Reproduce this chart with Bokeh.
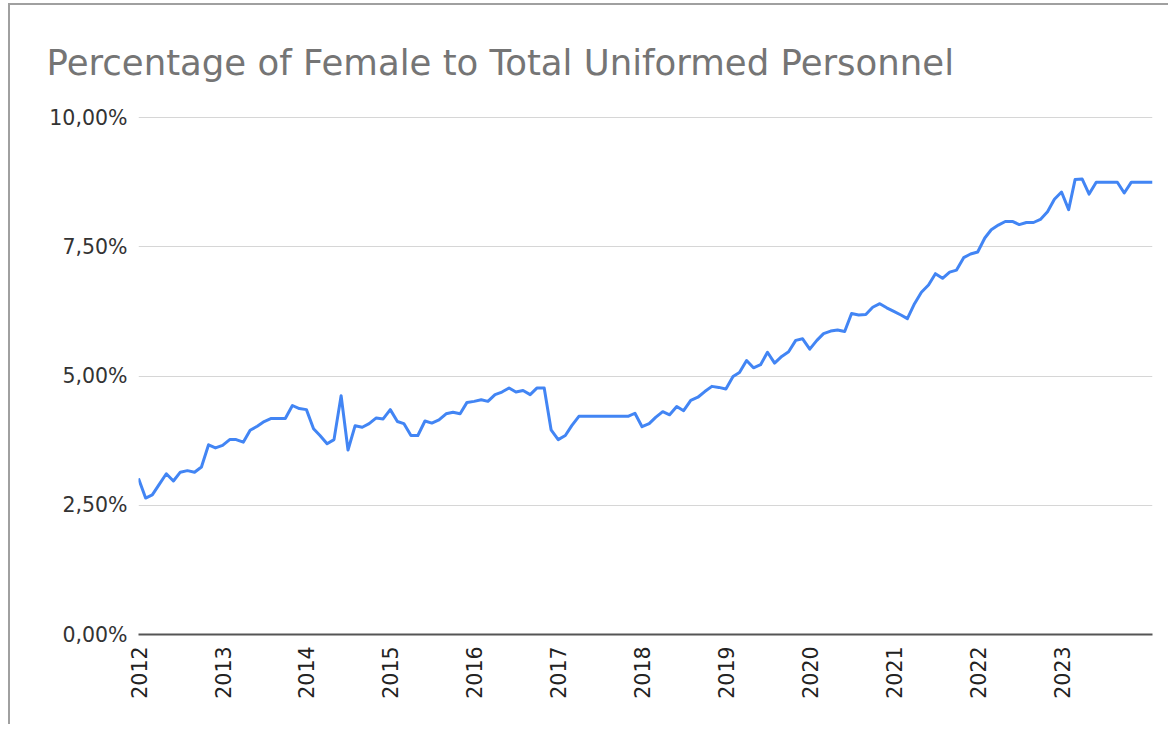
import math
import pandas as pd
from bokeh.plotting import figure
from bokeh.models import ColumnDataSource, Range1d, FixedTicker, DatetimeTickFormatter
from bokeh.embed import file_html
from bokeh.resources import INLINE

# Monthly share of female uniformed personnel (%), Jan 2012 onwards
female_pct = [
    3.02, 2.64, 2.70, 2.91, 3.11, 2.97, 3.14, 3.17, 3.14, 3.24, 3.67, 3.61,   # 2012
    3.66, 3.77, 3.77, 3.72, 3.95, 4.03, 4.12, 4.18, 4.18, 4.18, 4.43, 4.37,   # 2013
    4.35, 3.98, 3.85, 3.69, 3.77, 4.62, 3.57, 4.04, 4.01, 4.08, 4.19, 4.17,   # 2014
    4.35, 4.12, 4.08, 3.85, 3.85, 4.13, 4.09, 4.15, 4.27, 4.30, 4.27, 4.49,   # 2015
    4.51, 4.54, 4.51, 4.64, 4.69, 4.77, 4.69, 4.72, 4.64, 4.77, 4.77, 3.96,   # 2016
    3.77, 3.85, 4.04, 4.22, 4.22, 4.22, 4.22, 4.22, 4.22, 4.22, 4.22, 4.28,   # 2017
    4.02, 4.08, 4.20, 4.31, 4.25, 4.41, 4.33, 4.53, 4.59, 4.70, 4.80, 4.78,   # 2018
    4.75, 4.99, 5.07, 5.30, 5.16, 5.22, 5.46, 5.25, 5.38, 5.47, 5.69, 5.72,   # 2019
    5.52, 5.69, 5.82, 5.87, 5.89, 5.86, 6.21, 6.18, 6.19, 6.33, 6.40, 6.32,   # 2020
    6.25, 6.18, 6.11, 6.40, 6.62, 6.76, 6.98, 6.89, 7.01, 7.05, 7.29, 7.36,   # 2021
    7.40, 7.67, 7.83, 7.92, 7.99, 7.99, 7.93, 7.97, 7.97, 8.03, 8.18, 8.42,   # 2022
    8.56, 8.22, 8.80, 8.81, 8.52, 8.75, 8.75, 8.75, 8.75, 8.54, 8.75, 8.75,   # 2023
    8.75, 8.75,                                                               # 2024
]
start_month = "2012-01-01"
tick_years = [2012, 2013, 2014, 2015, 2016, 2017, 2018, 2019, 2020, 2021, 2022, 2023]
y_ticks = [0, 2.5, 5, 7.5, 10]
y_tick_labels = ["0,00%", "2,50%", "5,00%", "7,50%", "10,00%"]
title_text = "Percentage of Female to Total Uniformed Personnel"

FONT = "DejaVu Sans"

dates = pd.date_range(start_month, periods=len(female_pct), freq="MS")
src = ColumnDataSource(data=dict(date=dates, pct=female_pct))

p = figure(width=1160, height=721, output_backend="svg", toolbar_location=None,
           x_axis_type="datetime",
           x_range=Range1d(dates[0], dates[-1]), y_range=Range1d(0, 10.04),
           min_border_left=128, min_border_right=18, min_border_top=110, min_border_bottom=92,
           tools="")
p.outline_line_color = None
p.background_fill_color = "white"
p.border_fill_color = "white"
p.styles = {"border-left": "2px solid #a0a0a0", "border-top": "2px solid #a0a0a0",
            "margin-left": "8px", "margin-top": "3px"}

p.title.text = title_text
p.title.text_font = FONT
p.title.text_font_size = "35.5px"
p.title.text_font_style = "normal"
p.title.text_color = "#757575"
p.title.align = "left"
p.title.offset = -92
p.title.standoff = 66

p.line(x="date", y="pct", source=src, line_color="#4285F4", line_width=3, line_join="round")

p.ygrid.grid_line_color = "#d6d6d6"
p.ygrid.grid_line_width = 1
p.xgrid.grid_line_color = None

ya = p.yaxis[0]
ya.ticker = FixedTicker(ticks=y_ticks)
ya.major_label_overrides = {t: l for t, l in zip(y_ticks, y_tick_labels)}
ya.axis_line_color = None
ya.major_tick_line_color = None
ya.minor_tick_line_color = None
ya.major_label_text_font = FONT
ya.major_label_text_font_size = "20.5px"
ya.major_label_text_color = "#333333"
ya.major_label_standoff = 5

xa = p.xaxis[0]
xa.ticker = FixedTicker(ticks=[pd.Timestamp(f"{y}-01-01").value / 1e6 for y in tick_years])
fmt = "%Y"
xa.formatter = DatetimeTickFormatter(years=fmt, months=fmt, days=fmt, hours=fmt, minutes=fmt,
                                     seconds=fmt, milliseconds=fmt, microseconds=fmt)
xa.major_label_orientation = math.pi / 2
xa.axis_line_color = "#555555"
xa.axis_line_width = 2
xa.major_tick_line_color = None
xa.minor_tick_line_color = None
xa.major_label_text_font = FONT
xa.major_label_text_font_size = "20.5px"
xa.major_label_text_color = "#222222"
xa.major_label_standoff = 6

open("out.html", "w").write(file_html(p, INLINE))
